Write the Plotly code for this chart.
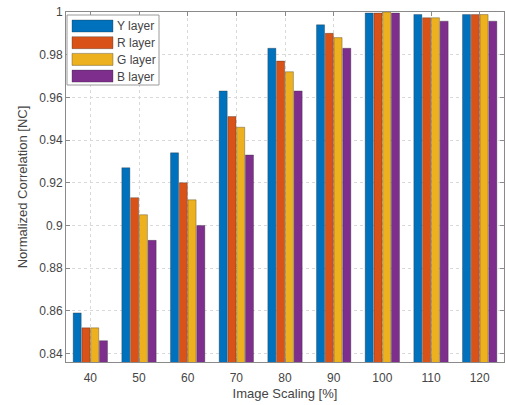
import plotly.graph_objects as go

# Image scaling levels (%) and normalized correlation per colour layer
scaling = [40, 50, 60, 70, 80, 90, 100, 110, 120]
y_layer = [0.859, 0.927, 0.934, 0.963, 0.983, 0.994, 0.9995, 0.9988, 0.9988]
r_layer = [0.852, 0.913, 0.920, 0.951, 0.977, 0.990, 0.9995, 0.9973, 0.9988]
g_layer = [0.852, 0.905, 0.912, 0.946, 0.972, 0.988, 1.0000, 0.9973, 0.9988]
b_layer = [0.846, 0.893, 0.900, 0.933, 0.963, 0.983, 0.9995, 0.9957, 0.9957]

series_names = ["Y layer", "R layer", "G layer", "B layer"]
series_values = [y_layer, r_layer, g_layer, b_layer]
colors = ["#0072BD", "#D95319", "#EDB120", "#7E2F8E"]

W, H = 505, 405
ML, MR, MT, MB = 66, 1, 12, 43
PW, PH = W - ML - MR, H - MT - MB
TEXT = "#454545"
FONT = "Liberation Sans, Arial, sans-serif"


def px_x(px):
    return (px - ML) / PW


def px_y(py):
    return 1 - (py - MT) / PH


fig = go.Figure()
for name, vals, col in zip(series_names, series_values, colors):
    fig.add_trace(go.Bar(
        x=scaling, y=vals, name=name,
        marker=dict(color=col, line=dict(color="rgba(40,40,40,0.55)", width=0.6)),
        showlegend=False,
    ))

# Legend box drawn as shapes so the swatches are wide like MATLAB's
shapes = [dict(type="rect", xref="paper", yref="paper",
               x0=px_x(67), x1=px_x(159), y0=px_y(85), y1=px_y(15),
               line=dict(color="#9a9a9a", width=1), fillcolor="white", layer="above")]
annotations = []
for i, (name, col) in enumerate(zip(series_names, colors)):
    top = 20 + i * 16.7
    shapes.append(dict(type="rect", xref="paper", yref="paper",
                       x0=px_x(72), x1=px_x(113), y0=px_y(top + 12), y1=px_y(top),
                       line=dict(color="rgba(40,40,40,0.55)", width=0.6),
                       fillcolor=col, layer="above"))
    annotations.append(dict(xref="paper", yref="paper", x=px_x(115), y=px_y(top + 6.5),
                            text=name, showarrow=False, xanchor="left", yanchor="middle",
                            font=dict(family=FONT, size=12, color=TEXT)))

fig.update_layout(
    width=W, height=H,
    margin=dict(l=ML, r=MR, t=MT, b=MB),
    paper_bgcolor="white", plot_bgcolor="white",
    barmode="group", bargap=0.28, bargroupgap=0.08,
    font=dict(family=FONT, size=12, color=TEXT),
    shapes=shapes, annotations=annotations,
    showlegend=False,
)
fig.update_xaxes(
    range=[35, 125], tickmode="array", tickvals=scaling,
    ticktext=[str(s) for s in scaling],
    showline=True, mirror="ticks", linecolor="#8a8a8a", linewidth=1,
    ticks="inside", ticklen=4, tickcolor="#8a8a8a",
    showgrid=True, gridcolor="#d9d9d9", griddash="dot", gridwidth=1,
    zeroline=False, ticklabelstandoff=5,
    title=dict(text="Image Scaling [%]", font=dict(size=13, color=TEXT), standoff=4),
    tickfont=dict(size=12, color=TEXT),
)
fig.update_yaxes(
    range=[0.836, 1.0], tickmode="array",
    tickvals=[0.84, 0.86, 0.88, 0.90, 0.92, 0.94, 0.96, 0.98, 1.0],
    ticktext=["0.84", "0.86", "0.88", "0.9", "0.92", "0.94", "0.96", "0.98", "1"],
    showline=True, mirror="ticks", linecolor="#8a8a8a", linewidth=1,
    ticks="inside", ticklen=4, tickcolor="#8a8a8a",
    showgrid=True, gridcolor="#d9d9d9", griddash="dot", gridwidth=1,
    zeroline=False,
    title=dict(text="Normalized Correlation [NC]", font=dict(size=13, color=TEXT), standoff=8),
    tickfont=dict(size=12, color=TEXT),
)

fig.write_html("out.html")
